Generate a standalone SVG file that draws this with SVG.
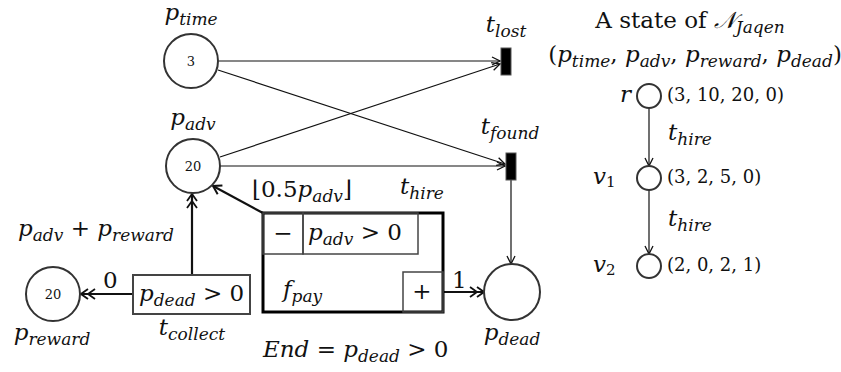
<svg xmlns="http://www.w3.org/2000/svg" width="841" height="372" viewBox="0 0 841 372">
<style>
text{font-family:"DejaVu Serif","Liberation Serif",serif;font-size:23px;fill:#111}
.i{font-style:italic}
.s{font-size:17px;font-style:italic}
.n{font-size:13px}
.pl{fill:#fff;stroke:#333;stroke-width:2}
.tr{fill:#000;stroke:#555;stroke-width:1}
.thin{stroke:#111;stroke-width:1.2;fill:none}
.thk{stroke:#111;stroke-width:2.2;fill:none}
.box{fill:#fff;stroke:#444;stroke-width:2}
.mid{text-anchor:middle}
.t{font-size:18px}
</style>
<defs>
<marker id="a" viewBox="0 0 10 10" refX="9" refY="5" markerWidth="10" markerHeight="10" markerUnits="userSpaceOnUse" orient="auto"><path d="M1,1 L9,5 L1,9" fill="none" stroke="#111" stroke-width="1.3"/></marker>
<marker id="a2" viewBox="0 0 12 12" refX="11" refY="6" markerWidth="12" markerHeight="12" markerUnits="userSpaceOnUse" orient="auto"><path d="M3,1 L11,6 L3,11" fill="none" stroke="#111" stroke-width="2"/></marker>
<marker id="d" viewBox="0 0 20 14" refX="19" refY="7" markerWidth="20" markerHeight="14" markerUnits="userSpaceOnUse" orient="auto"><path d="M12,2 L19,7 L12,12 M5,2 L12,7 L5,12" fill="none" stroke="#111" stroke-width="1.8"/></marker>
</defs>
<g id="connectors">
<line class="thin" x1="219" y1="61" x2="500" y2="61" marker-end="url(#a)"/>
<line class="thin" x1="218" y1="70" x2="505" y2="164" marker-end="url(#a)"/>
<line class="thin" x1="220" y1="157" x2="500" y2="64" marker-end="url(#a)"/>
<line class="thin" x1="220" y1="166" x2="505" y2="166" marker-end="url(#a)"/>
<line class="thin" x1="511" y1="180" x2="511" y2="264" marker-end="url(#a)"/>
<line class="thk" x1="263" y1="213" x2="213" y2="186" marker-end="url(#a2)"/>
<line class="thk" x1="443" y1="292" x2="484" y2="292" marker-end="url(#d)"/>
<line class="thk" x1="133" y1="294" x2="81" y2="294" marker-end="url(#d)"/>
<line class="thk" x1="192" y1="275" x2="192" y2="194" marker-end="url(#d)"/>
<line class="thin" x1="649" y1="108" x2="649" y2="166" marker-end="url(#a)"/>
<line class="thin" x1="649" y1="190" x2="649" y2="254" marker-end="url(#a)"/>
<text x="252" y="197">⌊0.5<tspan class="i">p</tspan><tspan class="s" dy="5">adv</tspan><tspan dy="-5">⌋</tspan></text>
<text x="452" y="288">1</text>
<text x="103" y="288">0</text>
<text x="18" y="236"><tspan class="i">p</tspan><tspan class="s" dy="5">adv</tspan><tspan dy="-5"> + </tspan><tspan class="i">p</tspan><tspan class="s" dy="5">reward</tspan></text>
<text x="668" y="140"><tspan class="i">t</tspan><tspan class="s" dy="5">hire</tspan></text>
<text x="668" y="226"><tspan class="i">t</tspan><tspan class="s" dy="5">hire</tspan></text>
</g>
<g id="p_time">
<circle class="pl" cx="191" cy="61" r="27"/>
<text class="n mid" x="191" y="66">3</text>
<text class="mid" x="191" y="20"><tspan class="i">p</tspan><tspan class="s" dy="5">time</tspan></text>
</g>
<g id="p_adv">
<circle class="pl" cx="193" cy="166" r="27"/>
<text class="n mid" x="193" y="171">20</text>
<text class="mid" x="193" y="125"><tspan class="i">p</tspan><tspan class="s" dy="5">adv</tspan></text>
</g>
<g id="t_lost">
<rect class="tr" x="501" y="48" width="10" height="27"/>
<text class="mid" x="506" y="32"><tspan class="i">t</tspan><tspan class="s" dy="5">lost</tspan></text>
</g>
<g id="t_found">
<rect class="tr" x="506" y="153" width="10" height="27"/>
<text class="mid" x="510" y="134"><tspan class="i">t</tspan><tspan class="s" dy="5">found</tspan></text>
</g>
<g id="p_dead">
<circle class="pl" cx="512" cy="292" r="28"/>
<text class="mid" x="512" y="340"><tspan class="i">p</tspan><tspan class="s" dy="5">dead</tspan></text>
</g>
<g id="t_hire">
<rect x="263" y="213" width="180" height="99" fill="#fff" stroke="#000" stroke-width="3"/>
<rect x="263" y="213" width="40" height="41" fill="none" stroke="#444" stroke-width="1.5"/>
<rect x="303" y="213" width="115" height="41" fill="none" stroke="#444" stroke-width="1.5"/>
<rect x="403" y="272" width="40" height="40" fill="none" stroke="#444" stroke-width="1.5"/>
<text class="mid" x="283" y="241">−</text>
<text x="308" y="240"><tspan class="i">p</tspan><tspan class="s" dy="5">adv</tspan><tspan dy="-5"> &gt; 0</tspan></text>
<text class="mid" x="422" y="299">+</text>
<text x="283" y="297"><tspan class="i">f</tspan><tspan class="s" dy="5">pay</tspan></text>
<text class="mid" x="422" y="194"><tspan class="i">t</tspan><tspan class="s" dy="5">hire</tspan></text>
<text x="263" y="357"><tspan class="i">End</tspan> = <tspan class="i">p</tspan><tspan class="s" dy="5">dead</tspan><tspan dy="-5"> &gt; 0</tspan></text>
</g>
<g id="t_collect">
<rect class="box" x="133" y="275" width="117" height="39"/>
<text x="139" y="301"><tspan class="i">p</tspan><tspan class="s" dy="5">dead</tspan><tspan dy="-5"> &gt; 0</tspan></text>
<text class="mid" x="192" y="335"><tspan class="i">t</tspan><tspan class="s" dy="5">collect</tspan></text>
</g>
<g id="p_reward">
<circle class="pl" cx="53" cy="294" r="27"/>
<text class="n mid" x="53" y="299">20</text>
<text class="mid" x="52" y="340"><tspan class="i">p</tspan><tspan class="s" dy="5">reward</tspan></text>
</g>
<g id="header">
<text class="mid" x="690" y="28">A state of <tspan class="i">𝒩</tspan><tspan class="s" dy="5">Jaqen</tspan></text>
<text class="mid" x="695" y="62">(<tspan class="i">p</tspan><tspan class="s" dy="5">time</tspan><tspan dy="-5">, </tspan><tspan class="i">p</tspan><tspan class="s" dy="5">adv</tspan><tspan dy="-5">, </tspan><tspan class="i">p</tspan><tspan class="s" dy="5">reward</tspan><tspan dy="-5">, </tspan><tspan class="i">p</tspan><tspan class="s" dy="5">dead</tspan><tspan dy="-5">)</tspan></text>
</g>
<g id="r">
<circle class="pl" cx="649" cy="96" r="12"/>
<text class="i" x="620" y="102">r</text>
<text class="t" x="667" y="101">(3, 10, 20, 0)</text>
</g>
<g id="v1">
<circle class="pl" cx="649" cy="178" r="12"/>
<text x="593" y="184"><tspan class="i">v</tspan><tspan dy="3" style="font-size:15px">1</tspan></text>
<text class="t" x="667" y="183">(3, 2, 5, 0)</text>
</g>
<g id="v2">
<circle class="pl" cx="649" cy="266" r="12"/>
<text x="593" y="272"><tspan class="i">v</tspan><tspan dy="3" style="font-size:15px">2</tspan></text>
<text class="t" x="667" y="271">(2, 0, 2, 1)</text>
</g>
</svg>
